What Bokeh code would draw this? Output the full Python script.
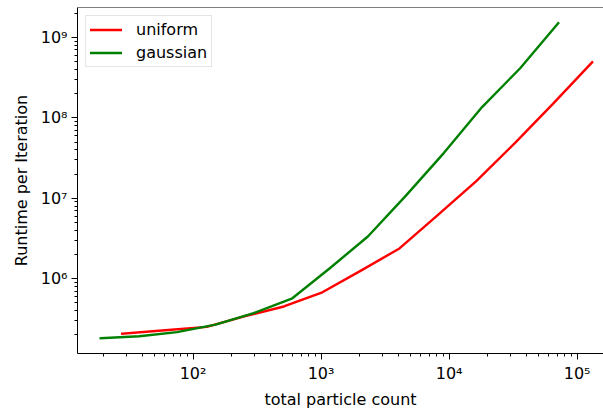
from bokeh.plotting import figure
from bokeh.models import FixedTicker, CustomJSTickFormatter, Span, Range1d
from bokeh.embed import file_html
from bokeh.resources import INLINE

# Runtime per iteration against total particle count, two particle distributions
uniform_n = [28, 64, 128, 256, 512, 1024, 2048, 4096, 8192, 16384, 32768, 65536, 131072]
uniform_t = [2.08e5, 2.31e5, 2.52e5, 3.43e5, 4.52e5, 6.79e5, 1.26e6, 2.38e6,
             6.21e6, 1.65e7, 4.88e7, 1.52e8, 4.91e8]

gaussian_n = [19, 38, 75, 150, 297, 590, 1170, 2320, 4600, 9120, 18100, 35900, 71200]
gaussian_t = [1.82e5, 1.93e5, 2.17e5, 2.69e5, 3.73e5, 5.64e5, 1.35e6, 3.35e6,
              1.08e7, 3.67e7, 1.36e8, 4.13e8, 1.50e9]

x_major = [1e2, 1e3, 1e4, 1e5]
y_major = [1e6, 1e7, 1e8, 1e9]
x_decades = [1e1, 1e2, 1e3, 1e4, 1e5]
y_decades = [1e5, 1e6, 1e7, 1e8, 1e9]

x_lo, x_hi = 12.52, 160700
y_lo, y_hi = 1.177e5, 2.35e9

FONT = "DejaVu Sans"
FS = "16px"

p = figure(width=603, height=411, x_axis_type="log", y_axis_type="log",
           x_range=Range1d(x_lo, x_hi), y_range=Range1d(y_lo, y_hi),
           output_backend="svg", toolbar_location=None,
           min_border_left=77, min_border_right=0,
           min_border_top=7, min_border_bottom=56)

p.background_fill_color = "white"
p.border_fill_color = "white"
p.outline_line_color = None
p.xgrid.visible = False
p.ygrid.visible = False

p.line(uniform_n, uniform_t, line_color="red", line_width=2.4,
       line_join="round", line_cap="square", legend_label="uniform")
p.line(gaussian_n, gaussian_t, line_color="green", line_width=2.4,
       line_join="round", line_cap="square", legend_label="gaussian")

# top spine
p.add_layout(Span(location=y_hi, dimension="width", line_color="black", line_width=1))

sup_fmt = CustomJSTickFormatter(code="""
const s = {"0":"\\u2070","1":"\\u00b9","2":"\\u00b2","3":"\\u00b3","4":"\\u2074",
           "5":"\\u2075","6":"\\u2076","7":"\\u2077","8":"\\u2078","9":"\\u2079","-":"\\u207b"};
const e = Math.round(Math.log10(tick));
return "10" + String(e).split("").map(c => s[c]).join("");
""")

def minor_ticks(decades):
    return [k * d for d in decades for k in range(2, 10)]

for ax, major, decades in ((p.xaxis[0], x_major, x_decades),
                           (p.yaxis[0], y_major, y_decades)):
    ax.ticker = FixedTicker(ticks=major, minor_ticks=minor_ticks(decades))
    ax.formatter = sup_fmt
    ax.axis_line_color = "black"
    ax.axis_line_width = 1
    ax.major_tick_in = 0
    ax.major_tick_out = 6
    ax.minor_tick_in = 0
    ax.minor_tick_out = 3
    ax.major_tick_line_color = "black"
    ax.minor_tick_line_color = "black"
    ax.major_label_text_font = FONT
    ax.major_label_text_font_size = FS
    ax.major_label_text_color = "black"
    ax.major_label_standoff = 4
    ax.axis_label_text_font = FONT
    ax.axis_label_text_font_size = FS
    ax.axis_label_text_font_style = "normal"
    ax.axis_label_text_color = "black"

p.xaxis.axis_label = "total particle count"
p.yaxis.axis_label = "Runtime per Iteration"
p.xaxis.axis_label_standoff = 4
p.yaxis.axis_label_standoff = 7

lg = p.legend[0]
lg.location = "top_left"
lg.margin = 8
lg.padding = 4
lg.spacing = 4
lg.glyph_width = 32
lg.glyph_height = 19
lg.label_height = 19
lg.label_standoff = 14
lg.label_text_font = FONT
lg.label_text_font_size = FS
lg.label_text_color = "black"
lg.border_line_color = "#cccccc"
lg.border_line_width = 1
lg.background_fill_color = "white"
lg.background_fill_alpha = 1.0

open("out.html", "w").write(file_html(p, INLINE))
